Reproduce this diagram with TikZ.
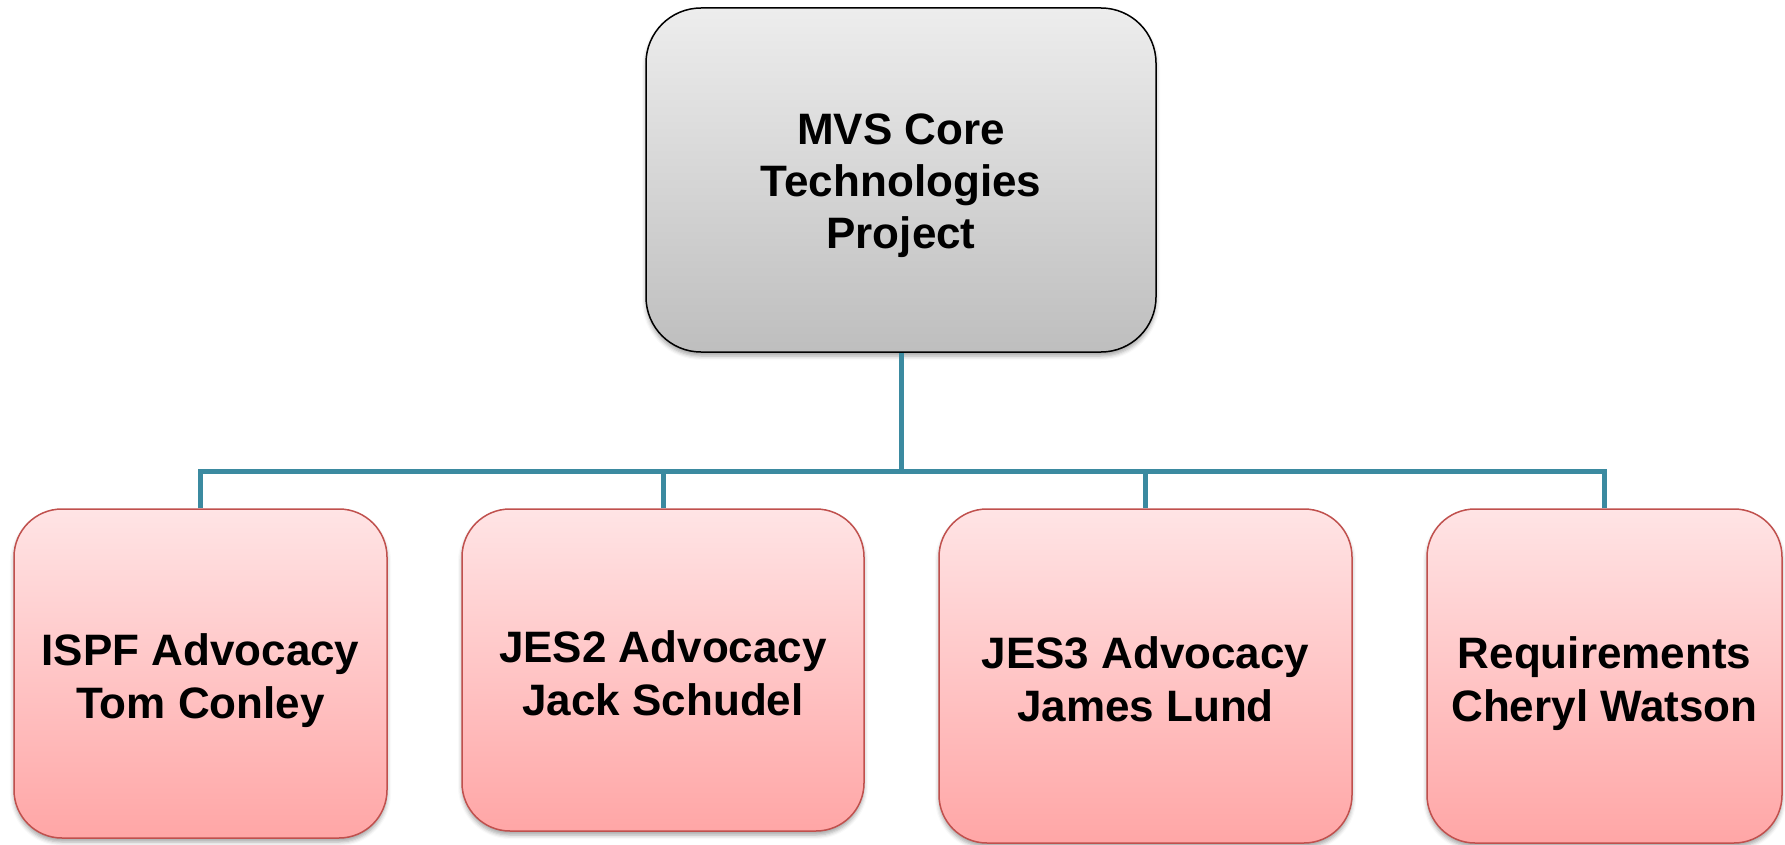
\documentclass[tikz,border=0pt]{standalone}
\usepackage{fontspec}
\setmainfont{Liberation Sans}
\usetikzlibrary{shadows.blur}
\definecolor{linkc}{HTML}{3B8AA0}
\definecolor{pinkborder}{HTML}{C0504D}
\definecolor{pinktop}{HTML}{FFE4E5}
\definecolor{pinkbot}{HTML}{FFA6A6}
\definecolor{graytop}{HTML}{EDEDED}
\definecolor{graybot}{HTML}{BEBEBE}
\tikzset{
  topbox/.style={draw=black, line width=1.5pt, rounded corners=55pt,
    top color=graytop, bottom color=graybot,
    blur shadow={shadow xshift=0pt, shadow yshift=-4pt, shadow blur radius=4pt, shadow opacity=35},
    minimum width=510pt, minimum height=344pt, inner sep=0pt},
  subbox/.style={draw=pinkborder, line width=1.5pt, rounded corners=48pt,
    top color=pinktop, bottom color=pinkbot,
    blur shadow={shadow xshift=0pt, shadow yshift=-4pt, shadow blur radius=4pt, shadow opacity=35},
    inner sep=0pt},
  toptext/.style={align=center, font=\bfseries\fontsize{44}{52}\selectfont, inner sep=0pt},
  subtext/.style={align=center, font=\bfseries\fontsize{44}{53}\selectfont, inner sep=0pt},
  link/.style={draw=linkc, line width=5pt}
}
\begin{document}
\begin{tikzpicture}[x=1pt,y=-1pt]
\useasboundingbox (0,0) rectangle (1785,845);
\node[topbox] (top) at (901,180) {};
\node[toptext] (tt) at (901,186) {MVS Core\\Technologies\\Project};
\node[subbox, minimum width=373pt, minimum height=329pt] (b1) at (200.5,673.5) {};
\node[subbox, minimum width=402pt, minimum height=322pt] (b2) at (663,670) {};
\node[subbox, minimum width=413pt, minimum height=334pt] (b3) at (1145.5,676) {};
\node[subbox, minimum width=355pt, minimum height=334pt] (b4) at (1604.5,676) {};
\node[subtext] (t1) at (200.5,681) {ISPF Advocacy\\Tom Conley};
\node[subtext] (t2) at (663,673) {JES2 Advocacy\\Jack Schudel};
\node[subtext] (t3) at (1145.5,679) {JES3 Advocacy\\James Lund};
\node[subtext] (t4) at (1604.5,684) {Requirements\\Cheryl Watson};
\coordinate (bus) at (901,471);
\draw[link] (top.south) -- (bus);
\draw[link] (b1.north) |- (bus);
\draw[link] (b2.north) |- (bus);
\draw[link] (b3.north) |- (bus);
\draw[link] (b4.north) |- (bus);
\end{tikzpicture}
\end{document}
